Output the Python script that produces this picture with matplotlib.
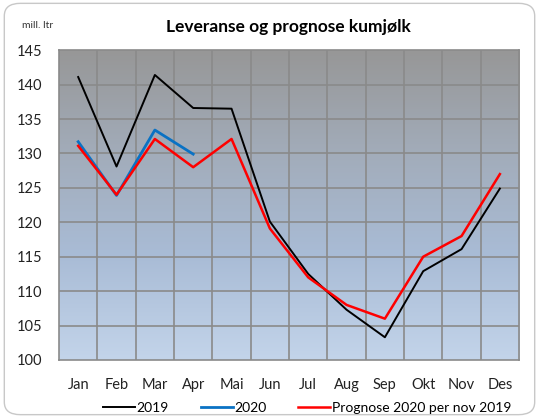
import matplotlib
matplotlib.use('Agg')
import matplotlib.pyplot as plt
import numpy as np
from matplotlib.patches import FancyBboxPatch
from matplotlib.colors import LinearSegmentedColormap

plt.rcParams['font.family'] = ['Lato', 'DejaVu Sans']

months = ['Jan', 'Feb', 'Mar', 'Apr', 'Mai', 'Jun', 'Jul', 'Aug', 'Sep', 'Okt', 'Nov', 'Des']
lev_2019 = [141.1, 128.1, 141.4, 136.6, 136.5, 120.1, 112.5, 107.3, 103.3, 112.9, 116.1, 124.9]
lev_2020 = [131.7, 123.9, 133.4, 129.9]
prognose = [131.1, 124.0, 132.1, 128.0, 132.1, 119.1, 112.0, 108.0, 106.0, 115.0, 118.0, 127.0]

fig = plt.figure(figsize=(5.39, 4.18), dpi=100)
frame = FancyBboxPatch((0.008, 0.008), 0.984, 0.984, boxstyle='round,pad=0,rounding_size=0.03',
                       transform=fig.transFigure, fc='white', ec='#c8c8c8', lw=1, zorder=-10)
fig.patches.append(frame)

ax = fig.add_axes([0.1095, 0.1388, 0.8535, 0.7412])
ax.set_xlim(-0.5, 11.5)
ax.set_ylim(100, 145)

# gradient background
grad = LinearSegmentedColormap.from_list('bg', ['#c3d4ea', '#a9bcd6', '#a2acba', '#979797'])
ax.imshow(np.linspace(0, 1, 256).reshape(-1, 1), aspect='auto', cmap=grad, origin='lower',
          extent=[-0.5, 11.5, 100, 145], zorder=0)

for xv in np.arange(0.5, 11.5, 1):
    ax.axvline(xv, color='#8a8a8a', lw=1.2, zorder=1)
for yv in range(105, 145, 5):
    ax.axhline(yv, color='#8a8a8a', lw=1.2, zorder=1)

x = np.arange(len(months))
ax.plot(x, lev_2019, color='black', lw=1.4, label='2019', zorder=3)
ax.plot(x[:len(lev_2020)], lev_2020, color='#0a72c4', lw=2, label='2020', zorder=3)
ax.plot(x, prognose, color='#ff0000', lw=1.8, label='Prognose 2020 per nov 2019', zorder=4)

ax.set_xticks(x)
ax.set_xticklabels(months)
ax.set_yticks(range(100, 150, 5))
ax.tick_params(axis='both', length=0, labelsize=10.5, colors='#222222')
ax.tick_params(axis='x', pad=13)
ax.tick_params(axis='y', pad=12)
for s in ax.spines.values():
    s.set_color('#8a8a8a')
    s.set_linewidth(1.2)

fig.text(0.535, 0.935, 'Leveranse og prognose kumjølk', ha='center', va='center',
         fontsize=12.5, fontweight='bold')
fig.text(0.04, 0.94, 'mill. ltr', ha='left', va='center', fontsize=7.5, color='#333333')

fig.legend(loc='center', bbox_to_anchor=(0.57, 0.024), ncol=3, frameon=False, fontsize=10,
           handlelength=2.3, handletextpad=0.1, columnspacing=2.3)

fig.savefig('out.png', dpi=100)
